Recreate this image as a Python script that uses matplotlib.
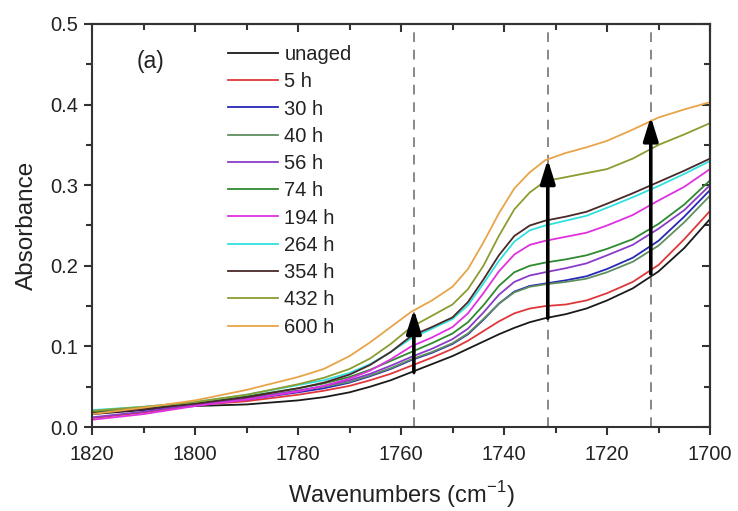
import matplotlib
matplotlib.use("Agg")
import matplotlib.pyplot as plt
from matplotlib.ticker import MultipleLocator

plt.rcParams["font.family"] = ["Liberation Sans", "DejaVu Sans"]

wavenumbers = [1820, 1810, 1800, 1790, 1780, 1775, 1770, 1766, 1762, 1758, 1754, 1750, 1747,
               1744, 1741, 1738, 1735, 1732, 1728, 1724, 1720, 1715, 1710, 1705, 1700]

unaged = [0.016, 0.021, 0.026, 0.028, 0.033, 0.037, 0.043, 0.050, 0.058, 0.068, 0.078, 0.088, 0.097,
          0.106, 0.115, 0.123, 0.130, 0.135, 0.140, 0.147, 0.157, 0.172, 0.193, 0.222, 0.258]
h5 = [0.011, 0.018, 0.027, 0.032, 0.040, 0.045, 0.051, 0.058, 0.066, 0.076, 0.086, 0.097, 0.107,
      0.119, 0.131, 0.141, 0.147, 0.150, 0.152, 0.157, 0.166, 0.180, 0.201, 0.233, 0.268]
h30 = [0.018, 0.022, 0.028, 0.034, 0.043, 0.048, 0.055, 0.063, 0.072, 0.083, 0.092, 0.103, 0.115,
       0.133, 0.153, 0.168, 0.175, 0.178, 0.182, 0.187, 0.196, 0.210, 0.231, 0.261, 0.294]
h40 = [0.020, 0.023, 0.029, 0.036, 0.045, 0.050, 0.056, 0.064, 0.073, 0.084, 0.093, 0.104, 0.116,
       0.134, 0.153, 0.167, 0.174, 0.177, 0.180, 0.184, 0.192, 0.205, 0.225, 0.254, 0.287]
h56 = [0.012, 0.019, 0.028, 0.035, 0.045, 0.051, 0.058, 0.066, 0.076, 0.087, 0.097, 0.109, 0.122,
       0.142, 0.164, 0.180, 0.188, 0.192, 0.197, 0.203, 0.213, 0.226, 0.246, 0.269, 0.300]
h74 = [0.019, 0.024, 0.030, 0.038, 0.048, 0.054, 0.062, 0.071, 0.082, 0.093, 0.104, 0.116, 0.130,
       0.151, 0.175, 0.192, 0.200, 0.204, 0.208, 0.213, 0.221, 0.233, 0.252, 0.276, 0.306]
h194 = [0.009, 0.016, 0.026, 0.034, 0.044, 0.051, 0.060, 0.070, 0.084, 0.100, 0.111, 0.124, 0.141,
        0.166, 0.193, 0.214, 0.226, 0.231, 0.236, 0.241, 0.250, 0.263, 0.281, 0.298, 0.320]
h264 = [0.021, 0.025, 0.031, 0.040, 0.052, 0.058, 0.067, 0.078, 0.093, 0.110, 0.122, 0.134, 0.151,
        0.178, 0.206, 0.230, 0.244, 0.250, 0.256, 0.262, 0.272, 0.285, 0.299, 0.314, 0.330]
h354 = [0.017, 0.022, 0.029, 0.037, 0.048, 0.055, 0.065, 0.077, 0.093, 0.113, 0.124, 0.136, 0.155,
        0.183, 0.213, 0.237, 0.250, 0.256, 0.261, 0.267, 0.277, 0.290, 0.304, 0.318, 0.333]
h432 = [0.020, 0.025, 0.031, 0.040, 0.053, 0.061, 0.072, 0.085, 0.103, 0.124, 0.138, 0.152, 0.171,
        0.200, 0.237, 0.270, 0.291, 0.305, 0.310, 0.315, 0.320, 0.333, 0.350, 0.363, 0.377]
h600 = [0.016, 0.024, 0.033, 0.046, 0.062, 0.072, 0.088, 0.105, 0.124, 0.143, 0.157, 0.174, 0.196,
        0.229, 0.265, 0.296, 0.316, 0.331, 0.340, 0.347, 0.355, 0.369, 0.384, 0.394, 0.403]

labels = ["unaged", "5 h", "30 h", "40 h", "56 h", "74 h", "194 h", "264 h", "354 h", "432 h", "600 h"]
series = [unaged, h5, h30, h40, h56, h74, h194, h264, h354, h432, h600]
colours = ["#1a1a1a", "#e0383a", "#2828b8", "#5f8f5f", "#8a3cc8", "#2e8a2e",
           "#e030e0", "#30e0e0", "#4a2828", "#8c9c30", "#e8a448"]

# dashed guide lines and arrows (from unaged up to 600 h)
arrow_x = [1757.5, 1731.5, 1711.5]
arrow_lo = [0.068, 0.135, 0.190]
arrow_hi = [0.146, 0.332, 0.385]

fig = plt.figure(figsize=(7.38, 5.11), dpi=100)
ax = fig.add_axes([92 / 738, 1 - 427 / 511, 618 / 738, 403 / 511])

for x in arrow_x:
    ax.axvline(x, color="#888888", linestyle=(0, (5, 4)), linewidth=1.4, zorder=1)

for y, lab, c in zip(series, labels, colours):
    ax.plot(wavenumbers, y, color=c, linewidth=1.3, label=lab, zorder=2)

for x, lo, hi in zip(arrow_x, arrow_lo, arrow_hi):
    ax.annotate("", xy=(x, hi), xytext=(x, lo),
                arrowprops=dict(arrowstyle="-|>,head_length=0.9,head_width=0.28",
                                color="black", lw=2.6, mutation_scale=16,
                                shrinkA=0, shrinkB=0), zorder=5)

ax.set_xlim(1820, 1700)
ax.set_ylim(0.0, 0.5)
ax.xaxis.set_major_locator(MultipleLocator(20))
ax.xaxis.set_minor_locator(MultipleLocator(10))
ax.yaxis.set_major_locator(MultipleLocator(0.1))
ax.yaxis.set_minor_locator(MultipleLocator(0.05))
ax.yaxis.set_major_formatter(matplotlib.ticker.FormatStrFormatter("%.1f"))

for s in ax.spines.values():
    s.set_linewidth(1.5)
    s.set_color("#333333")

ax.tick_params(which="major", direction="out", length=6, width=1.5, color="#333333",
               labelsize=14.5, labelcolor="#222222")
ax.tick_params(axis="x", which="major", pad=7)
ax.tick_params(axis="y", which="major", pad=4)
ax.tick_params(which="minor", direction="out", length=4, width=1.5, color="#333333")

top = ax.secondary_xaxis("top")
top.xaxis.set_major_locator(MultipleLocator(20))
top.xaxis.set_minor_locator(MultipleLocator(10))
top.tick_params(which="major", direction="in", length=6, width=1.5, color="#333333", labeltop=False)
top.tick_params(which="minor", direction="in", length=4, width=1.5, color="#333333")
right = ax.secondary_yaxis("right")
right.yaxis.set_major_locator(MultipleLocator(0.1))
right.yaxis.set_minor_locator(MultipleLocator(0.05))
right.tick_params(which="major", direction="in", length=6, width=1.5, color="#333333", labelright=False)
right.tick_params(which="minor", direction="in", length=4, width=1.5, color="#333333")
for sec in (top, right):
    for s in sec.spines.values():
        s.set_linewidth(1.5)
        s.set_color("#333333")

ax.set_xlabel("Wavenumbers (cm$^{\\mathregular{-1}}$)", fontsize=17, color="#222222", labelpad=11)
ax.set_ylabel("Absorbance", fontsize=17.5, color="#222222", labelpad=9)
ax.text(1808.7, 0.453, "(a)", fontsize=16.5, color="#222222", ha="center", va="center")

ax.legend(loc="upper left", bbox_to_anchor=(228 / 738, 1 - 45 / 511), bbox_transform=fig.transFigure,
          frameon=False, fontsize=14.5, handlelength=2.5, handletextpad=0.3,
          labelspacing=0.41, borderpad=0, borderaxespad=0, labelcolor="#222222")

fig.savefig("out.png", dpi=100)
